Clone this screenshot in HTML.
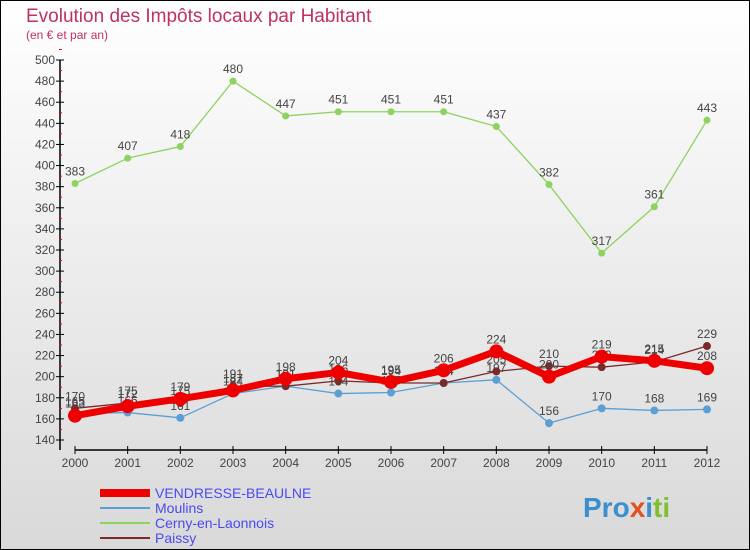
<!DOCTYPE html>
<html><head><meta charset="utf-8"><style>
body{margin:0}
#c{width:750px;height:550px;position:relative;overflow:hidden;font-family:"Liberation Sans",sans-serif}
</style></head><body>
<div id="c">
<svg width="750" height="550" xmlns="http://www.w3.org/2000/svg" id="svg">
<defs><linearGradient id="bg" x1="0" y1="0" x2="0" y2="1"><stop offset="0" stop-color="#ffffff"/><stop offset="1" stop-color="#d9d9d9"/></linearGradient></defs>
<rect x="0.5" y="0.5" width="749" height="549" fill="url(#bg)" stroke="#000"/>
<text x="26" y="22" font-size="19" fill="#c0315f">Evolution des Impôts locaux par Habitant</text>
<text x="26" y="39" font-size="12" fill="#c0315f">(en € et par an)</text>
<g id="axes"></g><g id="series"></g><g id="legend"></g>
<text x="583" y="517" font-size="28" font-weight="bold" fill="#f0a020"><tspan fill="#3a8fd0">Pro</tspan><tspan fill="#e05020">x</tspan><tspan fill="#3a8fd0">i</tspan><tspan fill="#80c030">ti</tspan></text>
</svg>
</div>
<script>
const years=[2000,2001,2002,2003,2004,2005,2006,2007,2008,2009,2010,2011,2012];
const yTicks=[140,160,180,200,220,240,260,280,300,320,340,360,380,400,420,440,460,480,500];
const vendresse=[163,172,179,187,198,204,195,206,224,200,219,215,208];
const moulins=[165,166,161,184,191,184,185,194,197,156,170,168,169];
const cerny=[383,407,418,480,447,451,451,451,437,382,317,361,443];
const paissy=[170,175,175,191,191,196,194,194,205,210,209,214,229];
const NS="http://www.w3.org/2000/svg";
const X=i=>75+i*(707-75)/(years.length-1);
const Y=v=>440-(v-140)*(380/360);
function mk(tag,attrs,parent,txt){const e=document.createElementNS(NS,tag);for(const k in attrs)e.setAttribute(k,attrs[k]);if(txt!==undefined)e.textContent=txt;parent.appendChild(e);return e;}
const axes=document.getElementById('axes');
const ax=mk('line',{x1:60,y1:Y(500),x2:60,y2:450,stroke:'#000','stroke-width':1.5},axes);


const xa=mk('line',{x1:75,y1:450,x2:707,y2:450,stroke:'#000','stroke-width':1.5},axes);


yTicks.forEach(v=>{
 mk('line',{x1:56,y1:Y(v),x2:64,y2:Y(v),stroke:'#000'},axes);
 mk('line',{x1:59,y1:Y(v+10),x2:62,y2:Y(v+10),stroke:'#e00'},axes);
 const t=mk('text',{x:55,y:Y(v)+4,'font-size':12,'text-anchor':'end',fill:'#444'},axes,v);
 
 
});
years.forEach((yr,i)=>{
 mk('line',{x1:X(i),y1:446,x2:X(i),y2:454,stroke:'#000'},axes);
 const t=mk('text',{x:X(i),y:467,'font-size':12,'text-anchor':'middle',fill:'#444'},axes,yr);
 
 
});
const ser=document.getElementById('series');
function draw(vals,color,w,r,name,labels){
 const g=mk('g',{},ser);
 
 
 mk('polyline',{points:vals.map((v,i)=>X(i)+','+Y(v)).join(' '),fill:'none',stroke:color,'stroke-width':w,'stroke-linejoin':'round'},g);
 vals.forEach((v,i)=>{
  const c=mk('circle',{cx:X(i),cy:Y(v),r:r,fill:color},g);
  
  
  if(labels){const t=mk('text',{x:X(i),y:Y(v)-8,'font-size':12,'text-anchor':'middle',fill:'#444'},g,v);
  
  }
 });
}
draw(cerny,'#8dd35f',1.3,3.5,'series-cerny',true);
draw(moulins,'#5b9fd4',1.3,4,'series-moulins',true);
draw(paissy,'#7a2a2a',1.3,4,'series-paissy',true);
draw(vendresse,'#ee0000',7,7,'series-vendresse',true);
const leg=document.getElementById('legend');
[['VENDRESSE-BEAULNE','#ee0000',8],['Moulins','#5b9fd4',2],['Cerny-en-Laonnois','#8dd35f',2],['Paissy','#7a2a2a',2]].forEach((d,i)=>{
 const y=493+i*15;
 const g=mk('g',{},leg);
 
 
 mk('line',{x1:100,y1:y,x2:150,y2:y,stroke:d[1],'stroke-width':d[2]},g);
 mk('text',{x:155,y:y+5,'font-size':14,fill:'#4a4af0'},g,d[0]);
});
</script>
</body></html>
